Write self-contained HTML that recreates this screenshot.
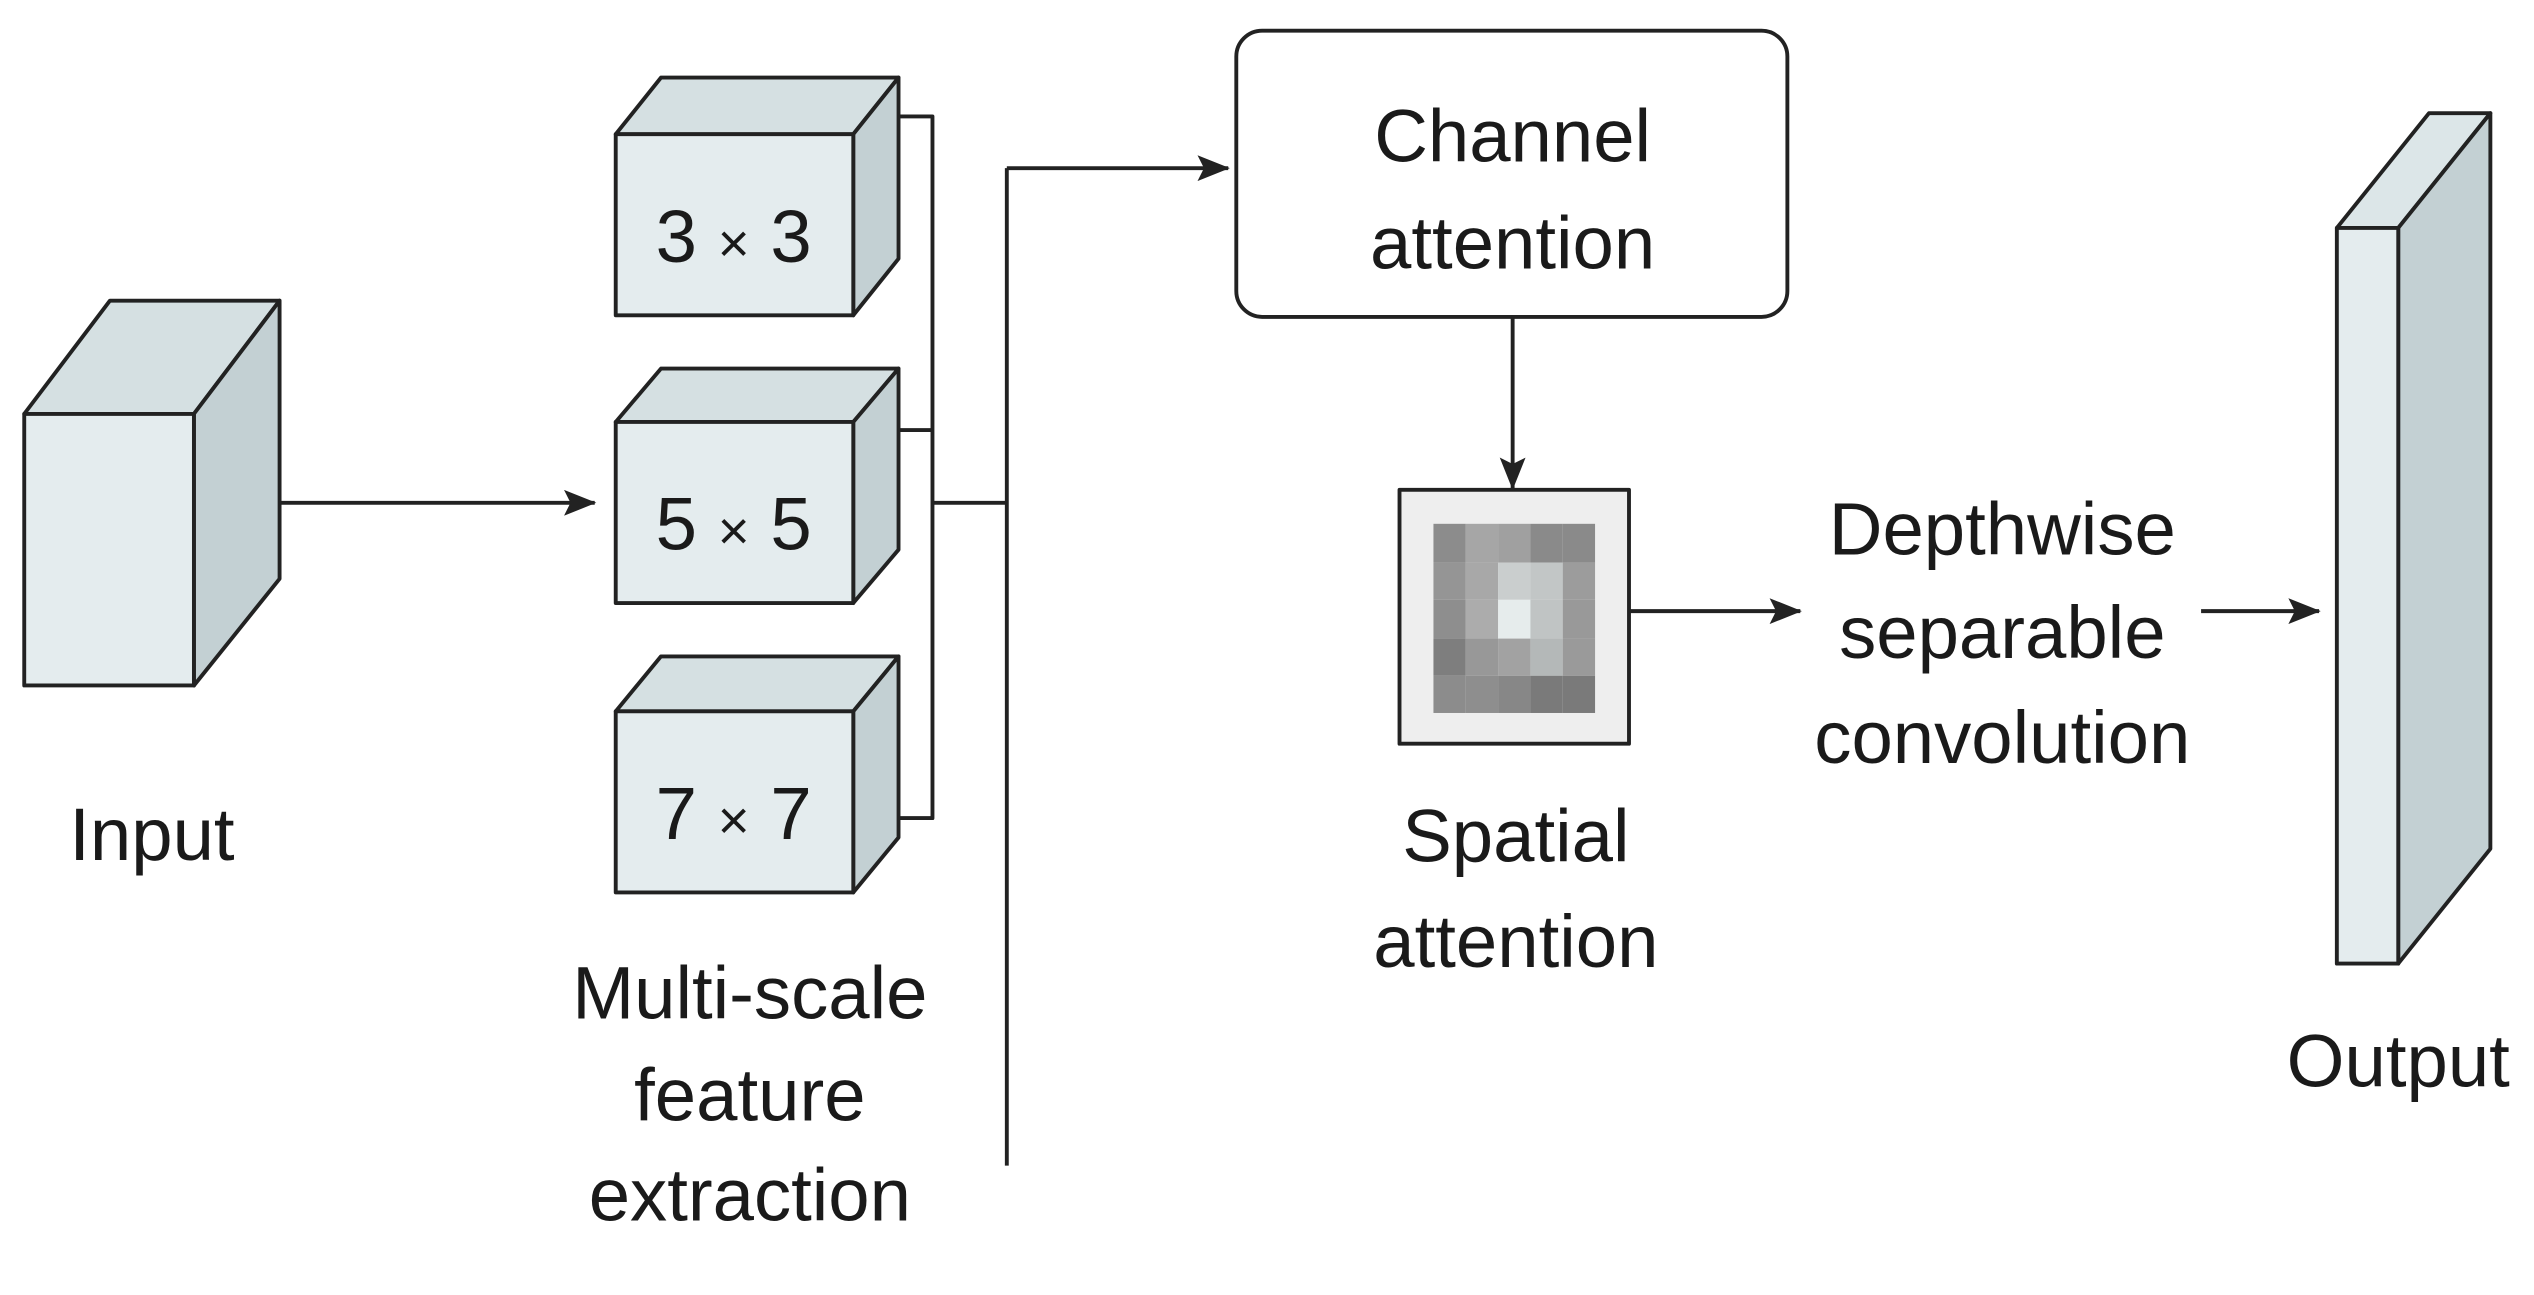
<!DOCTYPE html>
<html><head><meta charset="utf-8"><style>
html,body{margin:0;padding:0;background:#fff;width:2534px;height:1295px;overflow:hidden}
svg{display:block}
text{font-family:"Liberation Sans",sans-serif;fill:#1a1a1a;text-anchor:middle}
</style></head><body>
<svg width="2534" height="1295" viewBox="0 0 1568 801" preserveAspectRatio="none">
<defs>
<marker id="ah2" markerWidth="20" markerHeight="16" refX="19" refY="8" orient="auto" markerUnits="userSpaceOnUse"><path d="M0,0 L20,8 L0,16 L4,8 Z" fill="#222"/></marker></defs>
<g stroke="#222" stroke-width="2.4" stroke-linejoin="round">
<polygon points="15,256 68,186 173,186 120,256" fill="#d5e0e2"/>
<polygon points="120,256 173,186 173,358 120,424" fill="#c3d0d3"/>
<rect x="15" y="256" width="105" height="168" fill="#e4ecee"/>
<polygon points="381,83 409,48 556,48 528,83" fill="#d5e0e2"/>
<polygon points="528,83 556,48 556,160 528,195" fill="#c3d0d3"/>
<rect x="381" y="83" width="147" height="112" fill="#e4ecee"/>
<polygon points="381,261 409,228 556,228 528,261" fill="#d5e0e2"/>
<polygon points="528,261 556,228 556,340 528,373" fill="#c3d0d3"/>
<rect x="381" y="261" width="147" height="112" fill="#e4ecee"/>
<polygon points="381,440 409,406 556,406 528,440" fill="#d5e0e2"/>
<polygon points="528,440 556,406 556,518 528,552" fill="#c3d0d3"/>
<rect x="381" y="440" width="147" height="112" fill="#e4ecee"/>
<polygon points="1446,141 1503,70 1541,70 1484,141" fill="#dce6e8"/>
<polygon points="1484,141 1541,70 1541,525 1484,596" fill="#c3d0d3"/>
<rect x="1446" y="141" width="38" height="455" fill="#e4ecee"/>
<g fill="none">
<line x1="173" y1="311" x2="368" y2="311" marker-end="url(#ah2)"/>
<polyline points="556,72 577,72 577,506 556,506"/>
<line x1="556" y1="266" x2="577" y2="266"/>
<line x1="577" y1="311" x2="623" y2="311"/>
<line x1="623" y1="721" x2="623" y2="104"/>
<line x1="623" y1="104" x2="760" y2="104" marker-end="url(#ah2)"/>
<line x1="936" y1="196" x2="936" y2="302" marker-end="url(#ah2)"/>
<line x1="1008" y1="378" x2="1114" y2="378" marker-end="url(#ah2)"/>
<line x1="1362" y1="378" x2="1435" y2="378" marker-end="url(#ah2)"/>
</g>
<rect x="765" y="19" width="341" height="177" rx="16" fill="#fff"/>
<rect x="866" y="303" width="142" height="157" fill="#eeeeee"/>
</g>
<g>
<rect x="887" y="324" width="20" height="24" fill="#8c8c8c"/><rect x="907" y="324" width="20" height="24" fill="#a6a6a6"/><rect x="927" y="324" width="20" height="24" fill="#a0a0a0"/><rect x="947" y="324" width="20" height="24" fill="#8a8a8a"/><rect x="967" y="324" width="20" height="24" fill="#8a8a8a"/>
<rect x="887" y="348" width="20" height="23" fill="#959595"/><rect x="907" y="348" width="20" height="23" fill="#a8a8a8"/><rect x="927" y="348" width="20" height="23" fill="#cacece"/><rect x="947" y="348" width="20" height="23" fill="#c2c6c6"/><rect x="967" y="348" width="20" height="23" fill="#9c9c9c"/>
<rect x="887" y="371" width="20" height="24" fill="#8e8e8e"/><rect x="907" y="371" width="20" height="24" fill="#acacac"/><rect x="927" y="371" width="20" height="24" fill="#e6ecec"/><rect x="947" y="371" width="20" height="24" fill="#c0c4c4"/><rect x="967" y="371" width="20" height="24" fill="#999"/>
<rect x="887" y="395" width="20" height="23" fill="#7e7e7e"/><rect x="907" y="395" width="20" height="23" fill="#989898"/><rect x="927" y="395" width="20" height="23" fill="#a2a2a2"/><rect x="947" y="395" width="20" height="23" fill="#b4b8b8"/><rect x="967" y="395" width="20" height="23" fill="#9a9a9a"/>
<rect x="887" y="418" width="20" height="23" fill="#8c8c8c"/><rect x="907" y="418" width="20" height="23" fill="#8e8e8e"/><rect x="927" y="418" width="20" height="23" fill="#878787"/><rect x="947" y="418" width="20" height="23" fill="#7a7a7a"/><rect x="967" y="418" width="20" height="23" fill="#7a7a7a"/>
</g>
<g font-size="46">
<text x="454" y="162">3 <tspan font-size="34">×</tspan> 3</text>
<text x="454" y="340">5 <tspan font-size="34">×</tspan> 5</text>
<text x="454" y="519">7 <tspan font-size="34">×</tspan> 7</text>
</g>
<g font-size="46">
<text x="94" y="532">Input</text>
<text x="464" y="630">Multi-scale</text>
<text x="464" y="693">feature</text>
<text x="464" y="755">extraction</text>
<text x="936" y="100">Channel</text>
<text x="936" y="166">attention</text>
<text x="938" y="533">Spatial</text>
<text x="938" y="598">attention</text>
<text x="1239" y="343">Depthwise</text>
<text x="1239" y="407">separable</text>
<text x="1239" y="472">convolution</text>
<text x="1484" y="672">Output</text>
</g>
</svg>
</body></html>
